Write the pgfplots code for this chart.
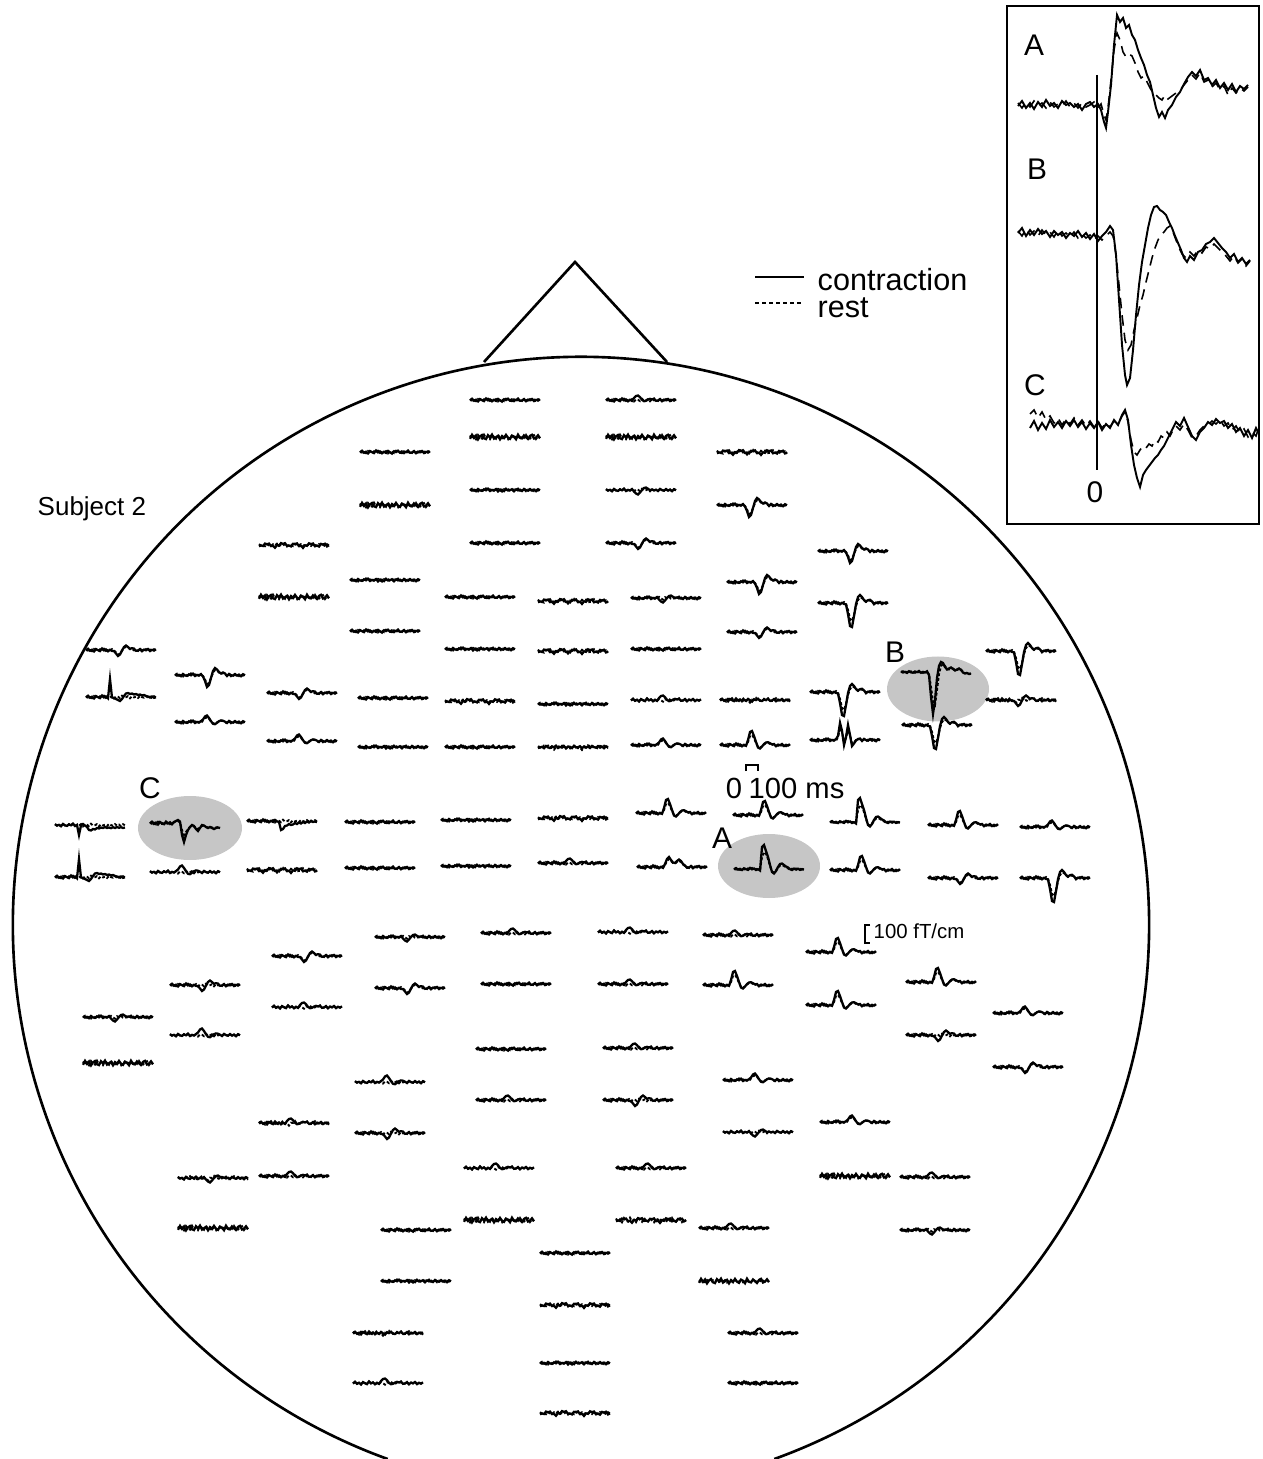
\documentclass[border=0pt]{standalone}
\usepackage{pgfplots}
\usepackage{pgfplotstable}
\pgfplotsset{compat=1.18}
\usepackage{fontspec}
\setmainfont{Liberation Sans}

\pgfplotstableread{
name a0 a1 a2 a3 a4 a5 a6 a7 a8 a9 a10 a11 a12 a13 a14 a15 a16 a17 a18 a19 a20 a21 a22 a23 a24 a25 a26 a27 a28 a29 a30 a31 a32 a33 a34 a35
x -35 -33 -31 -29 -27 -25 -23 -21 -19 -17 -15 -13 -11 -9 -7 -5 -3 -1 1 3 5 7 9 11 13 15 17 19 21 23 25 27 29 31 33 35
fa 0.5 -1.2 0.8 -0.3 1.4 -0.9 0.2 1.1 -1.5 0.4 -0.6 1.3 -0.2 0.9 -1.1 0.3 1.6 -0.8 0.1 -1.3 0.7 1.0 -0.5 0.2 -1.4 0.8 0.5 -0.9 1.2 -0.4 0.3 -1.0 1.1 -0.2 0.6 -0.7
fb -0.8 0.6 -0.2 1.2 -1.0 0.4 0.9 -0.7 0.3 -1.3 1.0 -0.1 0.6 -0.9 1.4 -0.5 -0.2 1.1 -1.2 0.5 0.2 -0.8 1.3 -0.6 0.4 -0.3 1.0 -1.1 0.1 0.7 -0.9 0.6 -0.4 1.2 -0.8 0.3
wa 1.3 0.4 1.0 -1.4 -0.6 -1.4 1.1 0.7 2.7 0.1 0.6 -1.9 -1.1 -1.8 0.9 0.5 1.4 -1.2 -0.8 -1.6 1.2 0.8 2.9 0.3 0.8 -1.7 -0.9 -1.5 1.3 0.6 1.6 -1.1 -0.4 -1.3 1.4 0.3
wb -1.4 1.2 0.5 1.6 -1.3 -0.7 -1.8 1.0 0.4 2.4 -0.4 0.0 -2.2 0.5 0.1 2.6 -0.3 -0.1 -2.1 0.9 0.2 1.4 -1.2 -0.7 -1.4 1.6 0.7 1.1 -1.7 0.6 0.3 1.5 -1.4 -0.4 -0.6 1.7
na 1.8 -2.2 0.9 -1.5 2.4 -0.6 -2.0 1.3 2.1 -1.8 0.4 -2.4 1.6 0.2 -1.2 2.3 -0.9 1.0 -2.1 0.7 1.9 -1.4 -0.3 2.2 -2.3 0.8 1.4 -1.6 0.3 2.0 -1.1 -2.2 1.5 0.6 -1.7 1.2
nb -1.5 1.9 -0.7 2.2 -2.0 0.5 1.6 -2.3 1.1 -0.4 2.1 -1.7 -0.2 1.8 -2.2 0.9 1.3 -1.9 0.6 2.3 -1.2 -0.5 1.7 -2.0 0.4 2.1 -1.3 0.8 -2.1 1.0 1.6 -0.8 -1.8 2.0 -0.6 1.1
uT 0.5 -1.2 0.8 -0.3 1.4 -0.9 0.2 1.1 -1.5 0.4 -0.6 1.3 -0.2 0.9 -2.0 -4.0 -4.5 -2.8 -0.2 1.2 0.8 -0.4 -1.2 -0.5 -1.4 0.8 0.5 -0.9 1.2 -0.4 0.3 -1.0 1.1 -0.2 0.6 -0.7
dT -0.8 0.6 -0.2 1.2 -1.0 0.4 0.9 -0.7 0.3 -1.3 1.0 -0.1 0.6 -0.9 1.5 3.5 4.5 2.5 0.0 -2.0 -2.5 -1.2 0.2 -0.6 0.4 -0.3 1.0 -1.1 0.1 0.7 -0.9 0.6 -0.4 1.2 -0.8 0.3
uS -0.8 0.6 -0.2 1.2 -1.0 0.4 0.9 -0.7 0.3 -1.3 1.0 -0.1 0.6 -0.9 -2.5 -5.5 -6.5 -4.0 -0.8 1.8 2.2 0.8 -0.8 -1.6 -1.3 -0.3 1.0 -1.1 0.1 0.7 -0.9 0.6 -0.4 1.2 -0.8 0.3
uSd 0.5 -1.2 0.8 -0.3 1.4 -0.9 0.2 1.1 -1.5 0.4 -0.6 1.3 -0.2 0.9 -1.5 -3.8 -4.6 -3.2 -0.5 1.2 1.6 0.4 -0.6 -1.2 -1.0 0.8 0.5 -0.9 1.2 -0.4 0.3 -1.0 1.1 -0.2 0.6 -0.7
uM 0.5 -1.2 0.8 -0.3 1.4 -0.9 0.2 1.1 -1.5 0.4 -0.6 1.3 -0.2 0.8 -5 -13 -14 -9 -3 2.5 3.5 1.5 -1 -2.5 -2.8 -1.8 -0.6 -0.9 1.2 -0.4 0.3 -1.0 1.1 -0.2 0.6 -0.7
uMd -0.8 0.6 -0.2 1.2 -1.0 0.4 0.9 -0.7 0.3 -1.3 1.0 -0.1 0.6 0.5 -3 -9 -10 -7 -2 2 2.8 1.2 -0.6 -1.8 -2.0 -1.2 0.2 -1.1 0.1 0.7 -0.9 0.6 -0.4 1.2 -0.8 0.3
uL 0.4 -0.9 0.6 -0.2 1.0 -0.7 0.2 0.9 -1.1 0.3 -0.5 1.0 0.2 1.5 -22 -24 -18 -12 -4 3 4.5 2 -2 -5 -5.5 -4 -2.5 -1.5 0.2 1.0 -0.4 0.6 -0.3 0.9 0.1 0.5
uLd -0.5 0.5 -0.1 0.9 -0.8 0.3 0.7 -0.6 0.2 -1.0 0.8 -0.1 0.4 1.0 -12 -17 -15 -10 -3 2.5 3.5 1.5 -1 -3.5 -4 -3 -1.5 -0.6 0.8 -0.3 0.9 -0.5 0.4 -0.2 0.7 0.0
dS 0.5 -1.2 0.8 -0.3 1.4 -0.9 0.2 1.1 -1.5 0.4 -0.6 1.3 -0.2 0.9 1.0 3.5 6.0 4.5 0.5 -3.0 -4.5 -3.0 -1.2 -1.8 -1.4 0.8 0.5 -0.9 1.2 -0.4 0.3 -1.0 1.1 -0.2 0.6 -0.7
dSd -0.8 0.6 -0.2 1.2 -1.0 0.4 0.9 -0.7 0.3 -1.3 1.0 -0.1 0.6 -0.9 0.6 2.5 4.5 3.8 0.8 -2.0 -3.2 -2.4 -0.8 -1.2 0.4 -0.3 1.0 -1.1 0.1 0.7 -0.9 0.6 -0.4 1.2 -0.8 0.3
dM -0.8 0.6 -0.2 1.2 -1.0 0.4 0.9 -0.7 0.3 -1.3 1.0 -0.1 0.6 -0.9 1.5 6 12 10 3 -4 -7 -5.5 -3 -1.5 -2.5 -1.5 1.0 -1.1 0.1 0.7 -0.9 0.6 -0.4 1.2 -0.8 0.3
dMd 0.5 -1.2 0.8 -0.3 1.4 -0.9 0.2 1.1 -1.5 0.4 -0.6 1.3 -0.2 0.9 1.0 4.5 9 8 3 -2 -5 -4.5 -2.5 -1 -2 -0.5 0.5 -0.9 1.2 -0.4 0.3 -1.0 1.1 -0.2 0.6 -0.7
dL 0.5 -1.2 0.8 -0.3 1.4 -0.9 0.2 1.1 -1.5 0.4 -0.6 1.3 -0.2 0.9 1.5 11 23 24 13 1 -6 -8 -6 -3 -1.5 -2.8 -3.2 -1.6 1.2 -0.4 0.3 -1.0 1.1 -0.2 0.6 -0.7
dLd -0.8 0.6 -0.2 1.2 -1.0 0.4 0.9 -0.7 0.3 -1.3 1.0 -0.1 0.6 -0.9 1.0 7 16 18 12 3 -3 -5.5 -5 -2.5 -1 -2 -2.5 -1.5 0.1 0.7 -0.9 0.6 -0.4 1.2 -0.8 0.3
dB -0.6 0.5 -0.2 0.9 -0.8 0.3 0.7 -0.5 0.2 -1.0 0.8 -0.1 0.5 -0.7 3 25 42 28 6 -6 -10 -9 -5 -2.5 -3.5 -4.5 -3 -1.5 -2.5 -3.5 -2 0.5 1.5 1.0 2.0 1.6
dBd 0.4 -0.7 0.6 -0.2 1.0 -0.6 0.2 0.8 -1.0 0.3 -0.4 0.9 -0.2 0.6 2 15 30 33 18 2 -6 -8 -6 -3 -2.5 -3.5 -3.5 -2 -2 -3 -2.5 0.0 1.2 0.8 1.8 2.0
cC 0.6 -1.3 0.9 -0.4 1.5 -1.0 0.3 1.2 -1.4 0.5 -0.7 1.2 -1 -2 -3 -1.5 12 19 12 7 4 2 3 6 8 5 2 2.5 4 5 4 5 6 5 4.5 5
cCd -1.0 0.8 -0.3 1.4 -1.2 0.5 1.0 -0.8 0.4 -1.4 1.1 -0.2 -0.5 -1.5 -2 -0.5 7 12 9 6 4 3 3.5 5 6 4.5 3 3 4 4.5 4 4.5 5 4.5 4 4.5
sC 0.5 -1.2 0.8 -0.3 1.4 -0.9 0.2 1.1 -1.5 0.4 -0.6 1.3 -0.2 0.9 -1.1 0.3 1 9 8 5 4.5 3 4 3.5 2 3 1.5 2.5 1 2 0.5 1.5 0 1 0.5 1.2
spd -0.8 0.6 -0.2 1.2 -1.0 0.4 0.9 -0.7 0.3 -1.3 1.0 -0.1 10 0.5 -1 0.5 2 5 5.5 4 4.5 3 3.5 2.5 3 2 3 2.5 3.2 2.2 3 2 2.8 2.2 3 2.5
sp 0.5 -1.2 0.8 -0.3 1.4 -0.9 0.2 1.1 -1.5 0.4 -0.6 1.3 -18 0.5 1 2 3 4 2 -1 -3.5 -4 -3 -3.5 -2.5 -3 -2 -2.5 -1.5 -2 -1 -0.5 0.5 -0.5 0.8 0.3
u2 -0.8 0.6 -0.2 1.2 -1.0 0.4 0.9 -0.7 0.3 -1.3 1.0 -0.1 0.6 -0.9 -4 -17 -9 5 -3 -15 -5 6 3.5 0.5 -1 -1.5 1.0 -1.1 0.1 0.7 -0.9 0.6 -0.4 1.2 -0.8 0.3
u2d 0.5 -1.2 0.8 -0.3 1.4 -0.9 0.2 1.1 -1.5 0.4 -0.6 1.3 -0.2 0.9 -3 -12 -8 2 -2 -11 -5 3.5 2.5 0 -0.5 -1 0.5 -0.9 1.2 -0.4 0.3 -1.0 1.1 -0.2 0.6 -0.7
uW 0.5 -1.2 0.8 -0.3 1.4 -0.9 0.2 1.1 -1.5 0.4 -0.6 1.3 -0.2 0.9 -3 -8 -10 -7 -4.5 -4 -6 -7.5 -6 -3 -1.5 0.8 0.5 -0.9 1.2 -0.4 0.3 -1.0 1.1 -0.2 0.6 -0.7
uWd -0.8 0.6 -0.2 1.2 -1.0 0.4 0.9 -0.7 0.3 -1.3 1.0 -0.1 0.6 -0.9 -2 -6 -8 -6 -4 -3.5 -5 -6 -5 -2.5 -1 -0.3 1.0 -1.1 0.1 0.7 -0.9 0.6 -0.4 1.2 -0.8 0.3
}\rawT
\pgfplotstabletranspose[colnames from=name]\T\rawT

% one sensor: x, y, contraction shape, rest shape
\newcommand{\tr}[4]{%
  \addplot[black, line width=0.65pt] table[x expr=\thisrow{x}+#1, y expr=\thisrow{#3}+#2]{\T};
  \addplot[black, line width=0.55pt, dash pattern=on 0.8pt off 0.6pt] table[x expr=\thisrow{x}+#1, y expr=\thisrow{#4}+#2]{\T};
}

\begin{document}
\begin{tikzpicture}
\begin{axis}[scale only axis, width=12.62cm, height=14.59cm,
  xmin=0, xmax=1262, ymin=0, ymax=1459, y dir=reverse,
  hide axis, clip=false]

% head outline and nose
\draw[line width=0.75pt] (axis cs:774.3,1459) arc[start angle=-70.1, end angle=250.1, radius=5.68cm];
\draw[line width=0.75pt] (axis cs:484,362) -- (axis cs:575,262) -- (axis cs:667,362);

% grey ellipses
\fill[gray!45] (axis cs:938,689) ellipse [x radius=0.51cm, y radius=0.325cm];
\fill[gray!45] (axis cs:769,866) ellipse [x radius=0.51cm, y radius=0.32cm];
\fill[gray!45] (axis cs:190,828) ellipse [x radius=0.52cm, y radius=0.32cm];

% legend
\addplot[black, line width=0.5pt] coordinates {(755,277) (804,277)};
\addplot[black, line width=0.6pt, dash pattern=on 1.2pt off 0.8pt] coordinates {(755,303) (804,303)};
\node[anchor=base west, font=\fontsize{8.7}{10}\selectfont, inner sep=0pt] at (axis cs:817,291) {contraction};
\node[anchor=base west, font=\fontsize{8.7}{10}\selectfont, inner sep=0pt] at (axis cs:817,318) {rest};

\node[anchor=base west, font=\fontsize{7.4}{9}\selectfont, inner sep=0pt] at (axis cs:37,516) {Subject 2};

% labels
\node[font=\fontsize{8.5}{10}\selectfont, inner sep=0pt] at (axis cs:895,652) {B};
\node[font=\fontsize{8.5}{10}\selectfont, inner sep=0pt] at (axis cs:722,838) {A};
\node[font=\fontsize{8.5}{10}\selectfont, inner sep=0pt] at (axis cs:150,788) {C};

% scale bars
\draw[line width=0.4pt] (axis cs:746,771) -- (axis cs:746,765) -- (axis cs:758,765) -- (axis cs:758,771);
\node[anchor=base, font=\fontsize{8.3}{10}\selectfont, inner sep=0pt] at (axis cs:734,798) {0};
\node[anchor=base west, font=\fontsize{8.3}{10}\selectfont, inner sep=0pt] at (axis cs:748,798) {100 ms};
\draw[line width=0.4pt] (axis cs:870,925) -- (axis cs:865,925) -- (axis cs:865,943) -- (axis cs:870,943);
\node[anchor=base west, font=\fontsize{5.8}{7}\selectfont, inner sep=0pt] at (axis cs:873,938) {100 fT/cm};

% sensors
\tr{505}{400}{fa}{fb}
\tr{641}{400}{uT}{fb}
\tr{505}{437}{na}{nb}
\tr{641}{437}{na}{nb}
\tr{395}{452}{fa}{fb}
\tr{752}{452}{wa}{wb}
\tr{505}{490}{fb}{fa}
\tr{641}{490}{dT}{fb}
\tr{395}{505}{na}{nb}
\tr{752}{505}{dM}{dMd}
\tr{505}{543}{fa}{fb}
\tr{641}{543}{dS}{dSd}
\tr{294}{545}{wa}{fb}
\tr{853}{551}{dM}{dMd}
\tr{385}{580}{fb}{fa}
\tr{762}{582}{dM}{dMd}
\tr{294}{597}{na}{nb}
\tr{480}{597}{fa}{fb}
\tr{573}{601}{wa}{wb}
\tr{666}{598}{dT}{fa}
\tr{853}{603}{dL}{dLd}
\tr{385}{631}{fa}{fb}
\tr{762}{632}{dS}{dSd}
\tr{121}{650}{dS}{dSd}
\tr{480}{649}{fb}{fa}
\tr{573}{651}{wa}{wb}
\tr{666}{649}{fa}{fb}
\tr{1021}{651}{dL}{dLd}
\tr{210}{675}{dM}{dMd}
\tr{936}{672}{dB}{dBd}
\tr{121}{697}{sp}{fb}
\tr{302}{693}{dS}{dSd}
\tr{393}{698}{fa}{fb}
\tr{480}{701}{wa}{fb}
\tr{573}{704}{fb}{fa}
\tr{666}{700}{uT}{fa}
\tr{755}{700}{fa}{wb}
\tr{845}{692}{dL}{dLd}
\tr{1021}{700}{dS}{wb}
\tr{210}{722}{uS}{uSd}
\tr{302}{741}{uS}{uSd}
\tr{393}{747}{fb}{fa}
\tr{480}{747}{fa}{fb}
\tr{573}{747}{fb}{wa}
\tr{666}{745}{uS}{uSd}
\tr{755}{745}{uM}{uMd}
\tr{845}{740}{u2}{u2d}
\tr{937}{725}{dL}{dLd}
% central rows
\tr{90}{825}{spd}{fb}
\tr{185}{823}{cC}{cCd}
\tr{282}{821}{sC}{fb}
\tr{380}{822}{fa}{fb}
\tr{476}{820}{fb}{fa}
\tr{573}{818}{wa}{fb}
\tr{671}{813}{uM}{uMd}
\tr{768}{815}{uM}{uMd}
\tr{865}{822}{uL}{uLd}
\tr{963}{825}{uM}{uMd}
\tr{1055}{827}{uS}{uSd}
\tr{90}{877}{sp}{fb}
\tr{185}{872}{uS}{fb}
\tr{282}{870}{wa}{wb}
\tr{380}{868}{fa}{fb}
\tr{476}{866}{fb}{fa}
\tr{573}{863}{uT}{fb}
\tr{672}{867}{uW}{uWd}
\tr{769}{869}{uL}{uLd}
\tr{865}{870}{uM}{uMd}
\tr{963}{878}{dS}{dSd}
\tr{1055}{878}{dL}{dLd}
% lower part
\tr{410}{937}{dT}{fa}
\tr{516}{933}{uT}{fb}
\tr{633}{932}{uT}{fa}
\tr{738}{935}{uT}{fb}
\tr{841}{952}{uM}{uMd}
\tr{307}{956}{dS}{dSd}
\tr{205}{985}{dS}{fb}
\tr{410}{988}{dS}{dSd}
\tr{516}{984}{fa}{fb}
\tr{633}{984}{uT}{fb}
\tr{738}{985}{uM}{uMd}
\tr{941}{982}{uM}{uMd}
\tr{841}{1005}{uM}{uMd}
\tr{307}{1007}{uT}{fa}
\tr{118}{1017}{dT}{fa}
\tr{1028}{1013}{uS}{uSd}
\tr{205}{1035}{uS}{fb}
\tr{941}{1035}{dS}{fb}
\tr{118}{1063}{na}{nb}
\tr{511}{1049}{fa}{fb}
\tr{638}{1048}{uT}{fb}
\tr{1028}{1067}{dS}{dSd}
\tr{390}{1082}{uS}{fb}
\tr{758}{1080}{uS}{uSd}
\tr{511}{1100}{uT}{fb}
\tr{638}{1100}{dS}{fb}
\tr{855}{1122}{uS}{uSd}
\tr{294}{1123}{uT}{wb}
\tr{390}{1133}{dS}{fb}
\tr{758}{1132}{dT}{fb}
\tr{499}{1168}{uT}{fa}
\tr{651}{1168}{uT}{fb}
\tr{213}{1178}{dT}{wb}
\tr{294}{1176}{uT}{fb}
\tr{855}{1176}{na}{nb}
\tr{935}{1177}{uT}{fb}
\tr{213}{1228}{na}{nb}
\tr{416}{1230}{fa}{fb}
\tr{499}{1220}{na}{nb}
\tr{651}{1220}{wa}{nb}
\tr{734}{1228}{uT}{fb}
\tr{935}{1230}{dT}{fa}
\tr{575}{1253}{fa}{fb}
\tr{416}{1281}{fb}{fa}
\tr{734}{1281}{na}{fb}
\tr{575}{1305}{wa}{fb}
\tr{388}{1333}{fa}{wb}
\tr{763}{1333}{uT}{fb}
\tr{575}{1363}{fb}{fa}
\tr{388}{1383}{uT}{fa}
\tr{763}{1383}{fa}{fb}
\tr{575}{1413}{wa}{fb}

% inset
\draw[line width=0.6pt] (axis cs:1007,6) rectangle (axis cs:1259,524);
\draw[line width=0.6pt] (axis cs:1097,75) -- (axis cs:1097,470);
\node[font=\fontsize{8.5}{10}\selectfont, inner sep=0pt] at (axis cs:1034,45) {A};
\node[font=\fontsize{8.5}{10}\selectfont, inner sep=0pt] at (axis cs:1037,169) {B};
\node[font=\fontsize{8.5}{10}\selectfont, inner sep=0pt] at (axis cs:1035,385) {C};
\node[font=\fontsize{8.5}{10}\selectfont, inner sep=0pt] at (axis cs:1095,492) {0};

\addplot[black, line width=0.55pt] coordinates {(1018,106) (1022,101) (1026,108) (1030,103) (1034,109) (1038,102) (1042,107) (1046,100) (1050,106) (1054,103) (1058,108) (1062,101) (1066,105) (1070,103) (1074,107) (1078,104) (1082,110) (1086,104) (1090,102) (1094,107) (1098,104) (1101,110) (1104,122) (1106,128) (1108,112) (1111,85) (1114,45) (1117,15) (1120,22) (1123,18) (1126,28) (1129,25) (1132,35) (1135,40) (1138,50) (1141,58) (1144,65) (1147,75) (1150,82) (1153,95) (1156,108) (1159,117) (1162,112) (1165,118) (1168,110) (1172,105) (1176,97) (1180,92) (1184,84) (1188,77) (1192,72) (1196,76) (1200,70) (1204,80) (1208,78) (1212,85) (1216,80) (1220,88) (1224,83) (1228,90) (1232,84) (1236,92) (1240,86) (1244,89) (1248,85)};
\addplot[black, line width=0.45pt, densely dashed] coordinates {(1018,103) (1022,108) (1026,102) (1030,107) (1034,101) (1038,106) (1042,103) (1046,108) (1050,102) (1054,107) (1058,104) (1062,106) (1066,101) (1070,107) (1074,103) (1078,108) (1082,103) (1086,107) (1090,105) (1094,102) (1098,108) (1101,104) (1104,115) (1106,120) (1108,108) (1111,80) (1114,50) (1117,33) (1120,40) (1123,52) (1126,57) (1129,54) (1132,56) (1135,63) (1138,72) (1141,78) (1144,76) (1147,82) (1150,88) (1153,93) (1156,95) (1159,98) (1162,100) (1165,95) (1168,99) (1172,96) (1176,93) (1180,90) (1184,85) (1188,80) (1192,75) (1196,79) (1200,73) (1204,82) (1208,80) (1212,87) (1216,83) (1220,90) (1224,86) (1228,95) (1232,88) (1236,93) (1240,88) (1244,91) (1248,87)};
\addplot[black, line width=0.55pt] coordinates {(1018,233) (1022,228) (1026,236) (1030,230) (1034,235) (1038,229) (1042,234) (1046,231) (1050,237) (1054,231) (1058,235) (1062,232) (1066,238) (1070,233) (1074,236) (1078,231) (1082,237) (1086,233) (1090,239) (1094,234) (1098,241) (1102,236) (1106,232) (1110,226) (1113,230) (1116,255) (1119,300) (1122,345) (1125,375) (1127,385) (1130,378) (1133,350) (1136,315) (1139,285) (1142,262) (1145,245) (1148,228) (1151,215) (1154,207) (1157,206) (1160,210) (1163,212) (1166,215) (1169,222) (1172,228) (1175,236) (1178,243) (1181,250) (1184,258) (1187,262) (1190,256) (1194,260) (1198,252) (1202,250) (1206,244) (1210,242) (1214,238) (1218,243) (1222,248) (1226,252) (1230,258) (1234,254) (1238,262) (1242,258) (1246,264) (1250,260)};
\addplot[black, line width=0.45pt, densely dashed] coordinates {(1018,231) (1022,236) (1026,229) (1030,235) (1034,231) (1038,236) (1042,230) (1046,235) (1050,232) (1054,237) (1058,230) (1062,236) (1066,233) (1070,237) (1074,232) (1078,238) (1082,234) (1086,238) (1090,235) (1094,240) (1098,236) (1102,240) (1106,236) (1110,232) (1113,236) (1116,255) (1119,285) (1122,315) (1125,340) (1128,350) (1131,345) (1134,330) (1137,318) (1140,305) (1143,295) (1146,282) (1149,270) (1152,258) (1155,248) (1158,240) (1161,235) (1164,232) (1167,228) (1170,226) (1173,232) (1176,240) (1179,248) (1182,254) (1186,258) (1190,252) (1194,256) (1198,250) (1202,253) (1206,247) (1210,249) (1214,244) (1218,248) (1222,252) (1226,256) (1230,261) (1234,256) (1238,263) (1242,259) (1246,266) (1250,261)};
\addplot[black, line width=0.55pt] coordinates {(1030,428) (1034,421) (1038,430) (1042,423) (1046,429) (1050,420) (1054,427) (1058,422) (1062,428) (1066,421) (1070,426) (1074,420) (1078,427) (1082,422) (1086,429) (1090,423) (1094,428) (1098,422) (1102,430) (1106,424) (1110,428) (1114,420) (1118,425) (1122,415) (1125,410) (1128,420) (1131,445) (1134,465) (1137,478) (1140,487) (1143,475) (1146,470) (1149,466) (1152,462) (1155,458) (1158,455) (1161,450) (1164,446) (1167,440) (1170,434) (1173,428) (1176,422) (1180,426) (1184,418) (1188,427) (1192,436) (1196,440) (1200,432) (1204,428) (1208,422) (1212,425) (1216,419) (1220,423) (1224,421) (1228,428) (1232,424) (1236,432) (1240,428) (1244,436) (1248,430) (1252,438) (1256,428) (1258,432)};
\addplot[black, line width=0.45pt, densely dashed] coordinates {(1030,414) (1034,410) (1038,418) (1042,412) (1046,420) (1050,416) (1054,423) (1058,418) (1062,425) (1066,419) (1070,424) (1074,418) (1078,425) (1082,420) (1086,426) (1090,421) (1094,427) (1098,421) (1102,428) (1106,423) (1110,427) (1114,421) (1118,424) (1122,416) (1125,412) (1128,422) (1131,440) (1134,452) (1137,455) (1140,450) (1143,446) (1146,448) (1149,444) (1152,446) (1155,440) (1158,442) (1161,436) (1164,438) (1167,432) (1170,436) (1173,430) (1176,426) (1180,430) (1184,424) (1188,430) (1192,438) (1196,436) (1200,430) (1204,426) (1208,425) (1212,421) (1216,424) (1220,420) (1224,426) (1228,423) (1232,430) (1236,426) (1240,433) (1244,429) (1248,437) (1252,432) (1256,436) (1258,430)};

\end{axis}
\pgfresetboundingbox
\path (current axis.south west) rectangle (current axis.north east);
\end{tikzpicture}
\end{document}
